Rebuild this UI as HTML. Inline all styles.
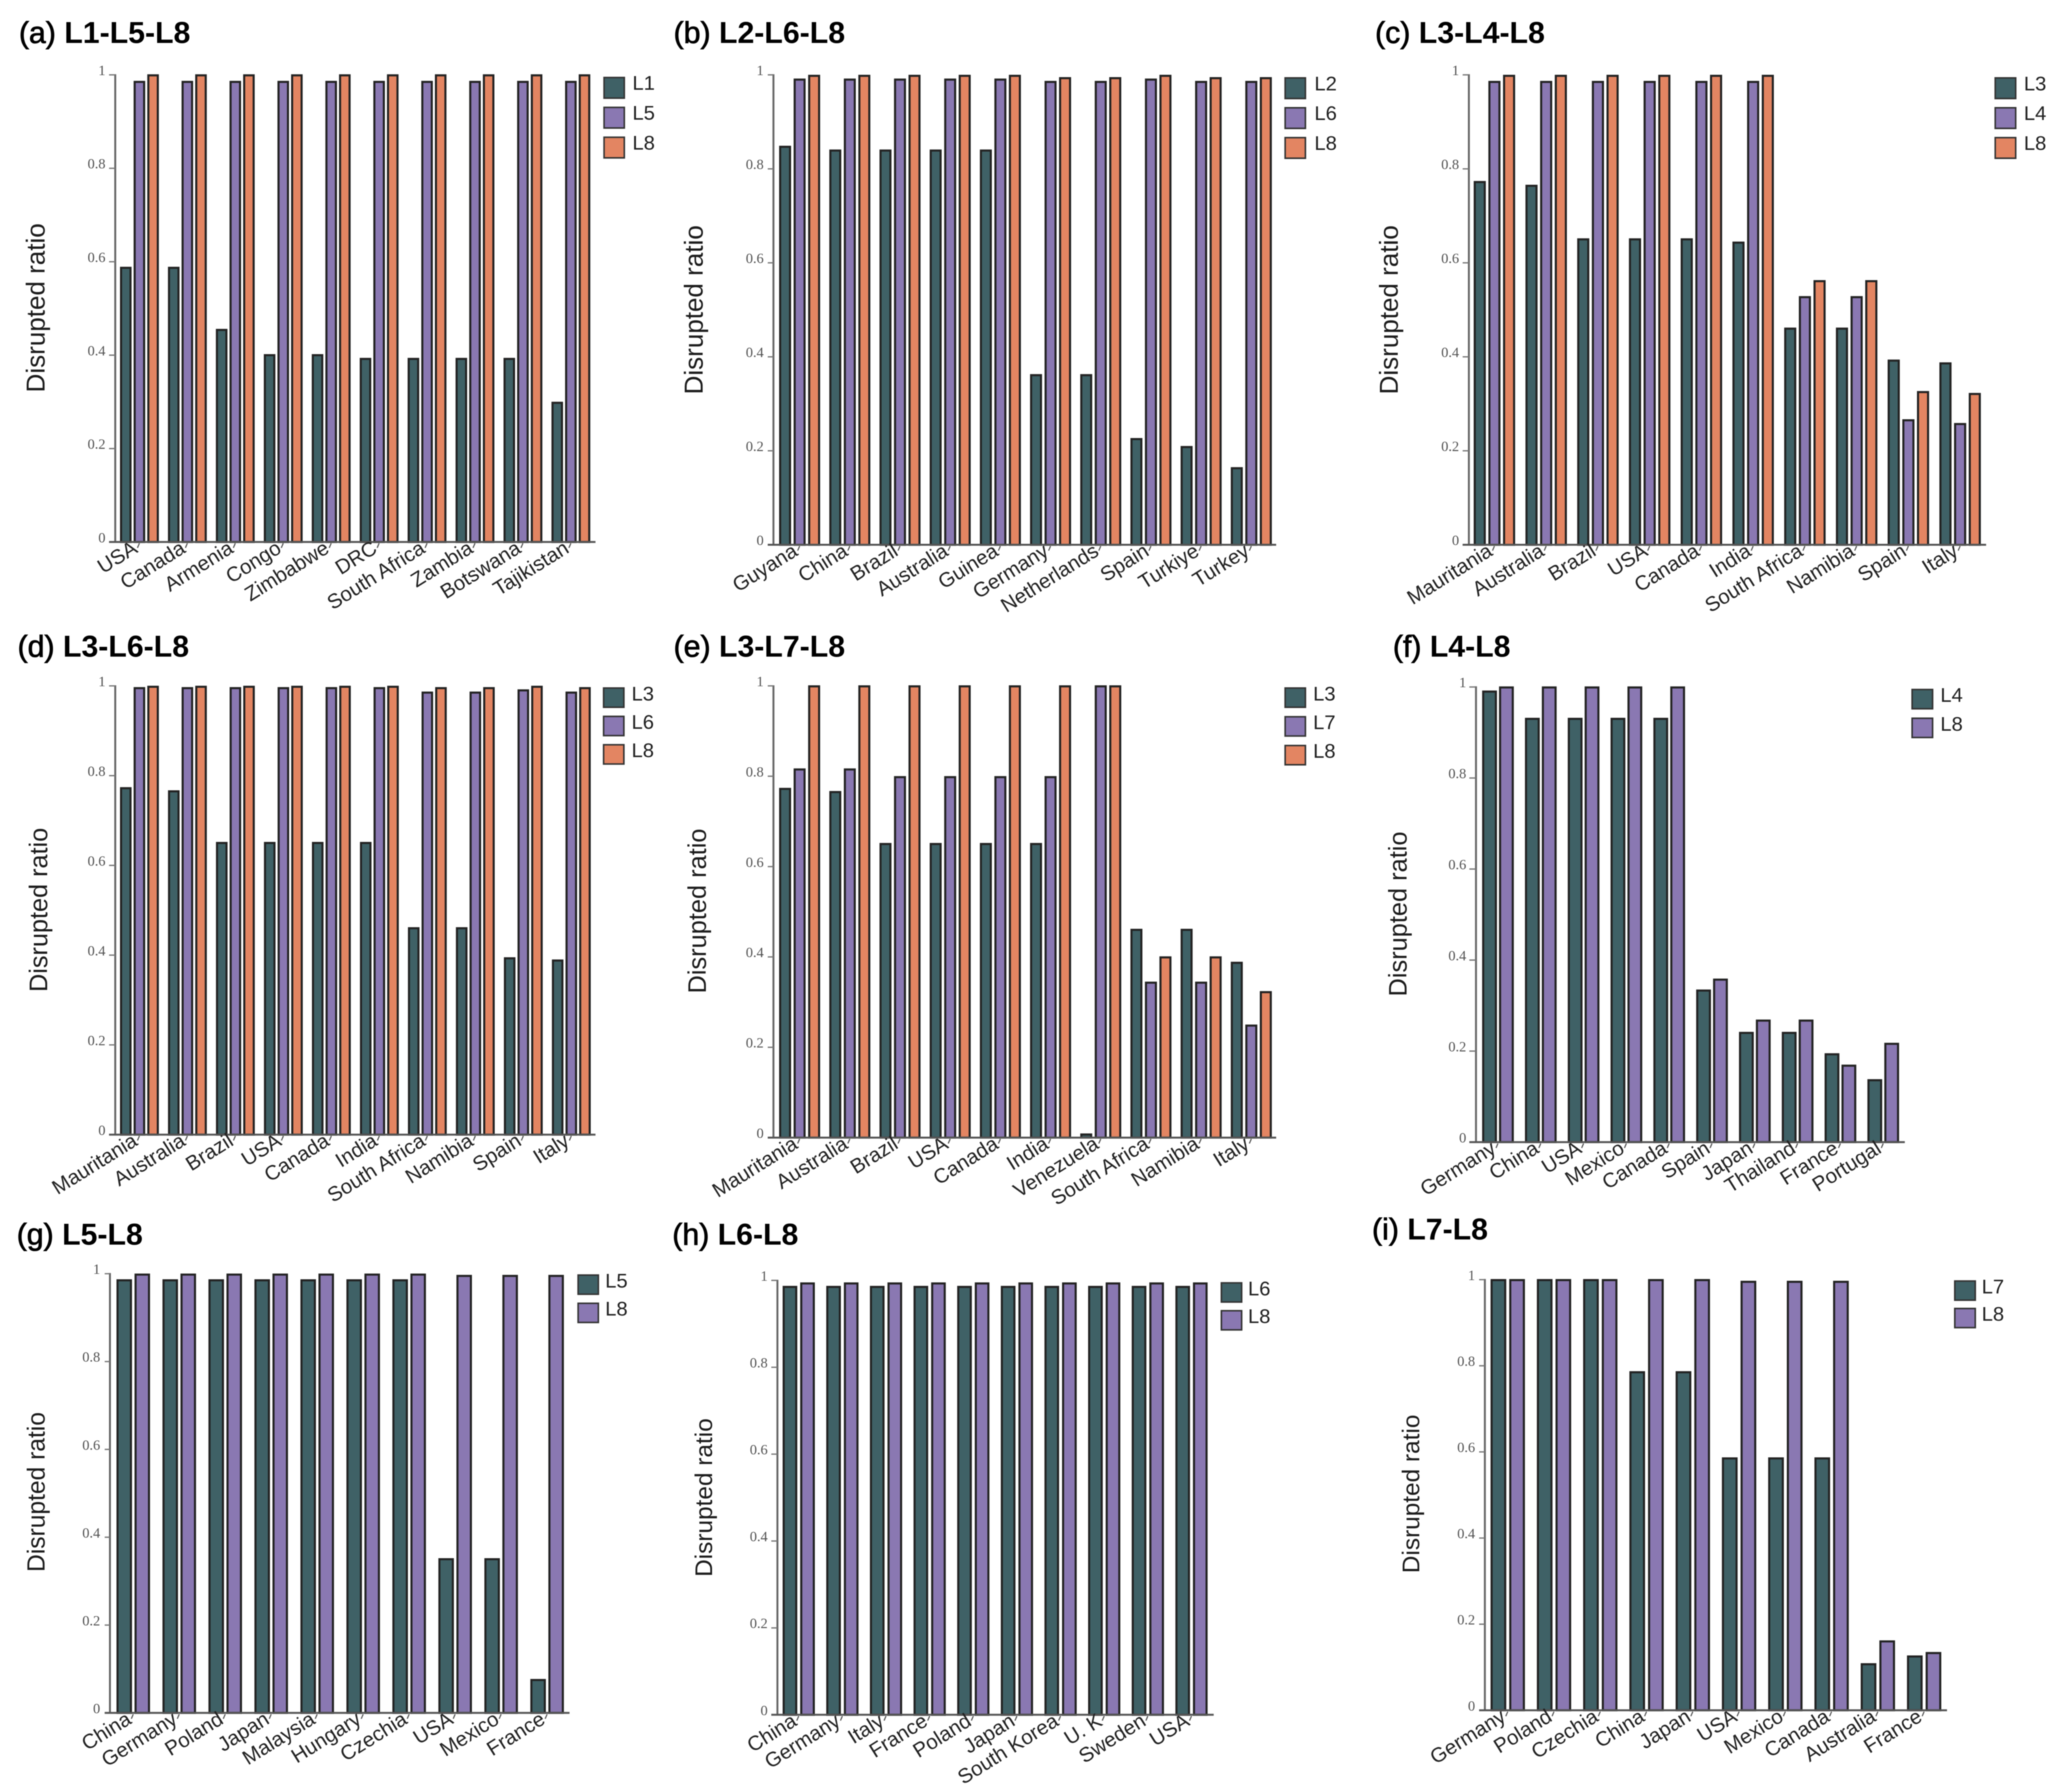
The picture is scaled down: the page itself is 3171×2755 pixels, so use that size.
<!DOCTYPE html>
<html lang="en">
<head>
<meta charset="utf-8">
<title>Disrupted ratio by country and layer combination</title>
<style>
html,body{margin:0;padding:0;background:#fff;width:3171px;height:2755px;overflow:hidden}
svg{display:block;filter:blur(.8px)}
text{font-family:"Liberation Sans",Arial,sans-serif}
.tick-label{font-family:"Liberation Serif","Times New Roman",serif;font-size:22px;fill:#555;text-anchor:end}
.cat-label{font-size:31.5px;fill:#222;text-anchor:end}
.y-title{fill:#1c1c1c;text-anchor:middle}
.legend-label{font-size:31px;fill:#222}
.panel-title{font-size:46.5px;font-weight:700;fill:#000}
.panel-tag{font-weight:400;stroke:#000;stroke-width:1px}
</style>
</head>
<body>
<svg id="figure" xmlns="http://www.w3.org/2000/svg" width="3171" height="2755" viewBox="0 0 3171 2755"></svg>
<script>
// ---- tick labels shared by all panels ----
const yTicks = [0, 0.2, 0.4, 0.6, 0.8, 1];
const yTickLabels = ['0', '0.2', '0.4', '0.6', '0.8', '1'];

// ---- (a) L1-L5-L8 ----
const categoriesA = ['USA', 'Canada', 'Armenia', 'Congo', 'Zimbabwe', 'DRC', 'South Africa', 'Zambia', 'Botswana', 'Tajikistan'];
const seriesNamesA = ['L1', 'L5', 'L8'];
const valuesA1 = [0.587, 0.587, 0.454, 0.40, 0.40, 0.392, 0.392, 0.392, 0.392, 0.298];
const valuesA2 = [0.985, 0.985, 0.985, 0.985, 0.985, 0.985, 0.985, 0.985, 0.985, 0.985];
const valuesA3 = [0.999, 0.999, 0.999, 0.999, 0.999, 0.999, 0.999, 0.999, 0.999, 0.999];

// ---- (b) L2-L6-L8 ----
const categoriesB = ['Guyana', 'China', 'Brazil', 'Australia', 'Guinea', 'Germany', 'Netherlands', 'Spain', 'Turkiye', 'Turkey'];
const seriesNamesB = ['L2', 'L6', 'L8'];
const valuesB1 = [0.847, 0.839, 0.839, 0.839, 0.839, 0.361, 0.361, 0.225, 0.208, 0.163];
const valuesB2 = [0.99, 0.99, 0.99, 0.99, 0.99, 0.985, 0.985, 0.99, 0.985, 0.985];
const valuesB3 = [0.998, 0.998, 0.998, 0.998, 0.998, 0.993, 0.993, 0.998, 0.993, 0.993];

// ---- (c) L3-L4-L8 ----
const categoriesC = ['Mauritania', 'Australia', 'Brazil', 'USA', 'Canada', 'India', 'South Africa', 'Namibia', 'Spain', 'Italy'];
const seriesNamesC = ['L3', 'L4', 'L8'];
const valuesC1 = [0.772, 0.764, 0.65, 0.65, 0.65, 0.643, 0.46, 0.46, 0.392, 0.386];
const valuesC2 = [0.985, 0.985, 0.985, 0.985, 0.985, 0.985, 0.527, 0.527, 0.265, 0.257];
const valuesC3 = [0.998, 0.998, 0.998, 0.998, 0.998, 0.998, 0.561, 0.561, 0.325, 0.321];

// ---- (d) L3-L6-L8 ----
const categoriesD = ['Mauritania', 'Australia', 'Brazil', 'USA', 'Canada', 'India', 'South Africa', 'Namibia', 'Spain', 'Italy'];
const seriesNamesD = ['L3', 'L6', 'L8'];
const valuesD1 = [0.772, 0.765, 0.65, 0.65, 0.65, 0.65, 0.46, 0.46, 0.393, 0.388];
const valuesD2 = [0.995, 0.995, 0.995, 0.995, 0.995, 0.995, 0.985, 0.985, 0.99, 0.985];
const valuesD3 = [0.998, 0.998, 0.998, 0.998, 0.998, 0.998, 0.995, 0.995, 0.998, 0.995];

// ---- (e) L3-L7-L8 ----
const categoriesE = ['Mauritania', 'Australia', 'Brazil', 'USA', 'Canada', 'India', 'Venezuela', 'South Africa', 'Namibia', 'Italy'];
const seriesNamesE = ['L3', 'L7', 'L8'];
const valuesE1 = [0.772, 0.765, 0.65, 0.65, 0.65, 0.65, 0.007, 0.46, 0.46, 0.387];
const valuesE2 = [0.815, 0.815, 0.798, 0.798, 0.798, 0.798, 0.999, 0.343, 0.343, 0.248];
const valuesE3 = [0.999, 0.999, 0.999, 0.999, 0.999, 0.999, 0.999, 0.399, 0.399, 0.322];

// ---- (f) L4-L8 ----
const categoriesF = ['Germany', 'China', 'USA', 'Mexico', 'Canada', 'Spain', 'Japan', 'Thailand', 'France', 'Portugal'];
const seriesNamesF = ['L4', 'L8'];
const valuesF1 = [0.99, 0.93, 0.93, 0.93, 0.93, 0.333, 0.24, 0.24, 0.193, 0.136];
const valuesF2 = [0.999, 0.999, 0.999, 0.999, 0.999, 0.357, 0.267, 0.267, 0.168, 0.216];

// ---- (g) L5-L8 ----
const categoriesG = ['China', 'Germany', 'Poland', 'Japan', 'Malaysia', 'Hungary', 'Czechia', 'USA', 'Mexico', 'France'];
const seriesNamesG = ['L5', 'L8'];
const valuesG1 = [0.985, 0.985, 0.985, 0.985, 0.985, 0.985, 0.985, 0.35, 0.35, 0.075];
const valuesG2 = [0.998, 0.998, 0.998, 0.998, 0.998, 0.998, 0.998, 0.995, 0.995, 0.995];

// ---- (h) L6-L8 ----
const categoriesH = ['China', 'Germany', 'Italy', 'France', 'Poland', 'Japan', 'South Korea', 'U. K', 'Sweden', 'USA'];
const seriesNamesH = ['L6', 'L8'];
const valuesH1 = [0.985, 0.985, 0.985, 0.985, 0.985, 0.985, 0.985, 0.985, 0.985, 0.985];
const valuesH2 = [0.993, 0.993, 0.993, 0.993, 0.993, 0.993, 0.993, 0.993, 0.993, 0.993];

// ---- (i) L7-L8 ----
const categoriesI = ['Germany', 'Poland', 'Czechia', 'China', 'Japan', 'USA', 'Mexico', 'Canada', 'Australia', 'France'];
const seriesNamesI = ['L7', 'L8'];
const valuesI1 = [0.999, 0.999, 0.999, 0.785, 0.785, 0.585, 0.585, 0.585, 0.107, 0.125];
const valuesI2 = [0.999, 0.999, 0.999, 0.999, 0.999, 0.995, 0.995, 0.995, 0.16, 0.133];

const threeColors = ['#3f6166', '#8a78b2', '#e38562'];
const twoColors = ['#3f6166', '#8a78b2'];

// Panel wiring. Layout numbers are measured inside a 1568-square view of each cell.
const panels = [
 {key:'a', tag:'(a)', name:'L1-L5-L8', cats:categoriesA, names:seriesNamesA, series:[valuesA1,valuesA2,valuesA3], colors:threeColors,
  cell:[0,0,1060,960], axisX:262, top:188, base:1361, xEnd:1354, xStart:248, first:273, last:1254, barW:26, pitch:31, titleX:43, titleY:108, yTitleX:82, yTitleY:773, yTitleSize:40, legX:1372, legY:193, legP:75, legT:1438},
 {key:'b', tag:'(b)', name:'L2-L6-L8', cats:categoriesB, names:seriesNamesB, series:[valuesB1,valuesB2,valuesB3], colors:threeColors,
  cell:[1030,0,1060,960], axisX:235, top:188, base:1368, xEnd:1378, xStart:222, first:248, last:1275, barW:27, pitch:33, titleX:8, titleY:108, yTitleX:55, yTitleY:778, yTitleSize:40, legX:1397, legY:194, legP:75, legT:1465},
 {key:'c', tag:'(c)', name:'L3-L4-L8', cats:categoriesC, names:seriesNamesC, series:[valuesC1,valuesC2,valuesC3], colors:threeColors,
  cell:[2100,0,1071,960], axisX:231, top:188, base:1368, xEnd:1395, xStart:217, first:242, last:1290, barW:27, pitch:33, titleX:20, titleY:108, yTitleX:52, yTitleY:778, yTitleSize:40, legX:1414, legY:194, legP:75, legT:1480},
 {key:'d', tag:'(d)', name:'L3-L6-L8', cats:categoriesD, names:seriesNamesD, series:[valuesD1,valuesD2,valuesD3], colors:threeColors,
  cell:[0,950,1060,900], axisX:262, top:182, base:1384, xEnd:1354, xStart:248, first:273, last:1255, barW:26, pitch:31, titleX:40, titleY:104, yTitleX:88, yTitleY:782, yTitleSize:38.8, legX:1371, legY:186, legP:76, legT:1436},
 {key:'e', tag:'(e)', name:'L3-L7-L8', cats:categoriesE, names:seriesNamesE, series:[valuesE1,valuesE2,valuesE3], colors:threeColors,
  cell:[1030,950,1060,900], axisX:235, top:182, base:1392, xEnd:1378, xStart:222, first:248, last:1275, barW:27, pitch:33, titleX:8, titleY:104, yTitleX:62, yTitleY:785, yTitleSize:39, legX:1397, legY:186, legP:77, legT:1462},
 {key:'f', tag:'(f)', name:'L4-L8', cats:categoriesF, names:seriesNamesF, series:[valuesF1,valuesF2], colors:twoColors,
  cell:[2100,950,1071,900], axisX:247, top:185, base:1404, xEnd:1212, xStart:232, first:261, last:1128, barW:33, pitch:38, titleX:60, titleY:104, yTitleX:72, yTitleY:793, yTitleSize:39, legX:1227, legY:190, legP:77, legT:1292},
 {key:'g', tag:'(g)', name:'L5-L8', cats:categoriesG, names:seriesNamesG, series:[valuesG1,valuesG2], colors:twoColors,
  cell:[0,1860,1060,895], axisX:250, top:172, base:1355, xEnd:1295, xStart:238, first:265, last:1206, barW:35, pitch:41, titleX:38, titleY:94, yTitleX:82, yTitleY:760, yTitleSize:37.8, legX:1313, legY:174, legP:76, legT:1376},
 {key:'h', tag:'(h)', name:'L6-L8', cats:categoriesH, names:seriesNamesH, series:[valuesH1,valuesH2], colors:twoColors,
  cell:[1030,1860,1060,895], axisX:244, top:190, base:1360, xEnd:1236, xStart:230, first:256, last:1149, barW:33, pitch:40, titleX:5, titleY:94, yTitleX:76, yTitleY:775, yTitleSize:37.5, legX:1252, legY:195, legP:75, legT:1314},
 {key:'i', tag:'(i)', name:'L7-L8', cats:categoriesI, names:seriesNamesI, series:[valuesI1,valuesI2], colors:twoColors,
  cell:[2100,1860,1071,895], axisX:267, top:188, base:1348, xEnd:1307, xStart:254, first:280, last:1217, barW:35, pitch:42, titleX:13, titleY:80, yTitleX:100, yTitleY:765, yTitleSize:37.5, legX:1323, legY:190, legP:74, legT:1385}
];

const NS = 'http://www.w3.org/2000/svg';
const root = document.getElementById('figure');
function make(tag, parent, props) {
  const el = document.createElementNS(NS, tag);
  for (const k in props) el.setAttribute(k, props[k]);
  parent.appendChild(el);
  return el;
}

panels.forEach(function (p) {
  const kx = 1568 / p.cell[2];
  const ky = 1568 / p.cell[3];
  const X = function (z) { return p.cell[0] + z / kx; };
  const Y = function (z) { return p.cell[1] + z / ky; };
  const y0 = Y(p.base);
  const y1 = Y(p.top);
  const yScale = function (v) { return y0 + (y1 - y0) * v; };
  const groupStep = (X(p.last) - X(p.first)) / (p.cats.length - 1);
  const barWidth = p.barW / kx;
  const barPitch = p.pitch / kx;
  const groupWidth = barPitch * (p.series.length - 1) + barWidth;
  const xScale = function (i) { return X(p.first) + i * groupStep; };

  const g = make('g', root, {});
  
  

  const title = make('text', g, {x: X(p.titleX), y: Y(p.titleY), 'class': 'panel-title'});
  
  
  const tagSpan = make('tspan', title, {'class': 'panel-tag'});
  tagSpan.textContent = p.tag;
  const nameSpan = make('tspan', title, {});
  nameSpan.textContent = ' ' + p.name;

  const yTitleX = X(p.yTitleX) + 13;
  const yTitleY = Y(p.yTitleY);
  const yTitle = make('text', g, {x: yTitleX, y: yTitleY, 'class': 'y-title', 'font-size': p.yTitleSize, transform: 'rotate(-90 ' + yTitleX + ' ' + yTitleY + ')'});
  
  
  yTitle.textContent = 'Disrupted ratio';

  // bars
  p.series.forEach(function (values, s) {
    values.forEach(function (v, i) {
      const left = xScale(i) + s * barPitch;
      const topY = yScale(v);
      const bar = make('rect', g, {x: left + 1.5, y: topY, width: barWidth - 3, height: y0 - topY, fill: p.colors[s], stroke: '#222', 'stroke-width': 3.2});
      
      
    });
  });

  // y axis
  const yAxis = make('line', g, {x1: X(p.axisX), x2: X(p.axisX), y1: y1 - 1, y2: y0, stroke: '#666', 'stroke-width': 3});
  
  

  yTicks.forEach(function (t, n) {
    const ty = yScale(t);
    const tick = make('line', g, {x1: X(p.xStart), x2: X(p.axisX), y1: ty, y2: ty, stroke: '#777', 'stroke-width': 2});
    
    
    const lab = make('text', g, {x: X(p.axisX) - 15, y: ty + 0.5, 'class': 'tick-label'});
    
    
    lab.textContent = yTickLabels[n];
  });

  // x axis
  const xAxis = make('line', g, {x1: X(p.xStart), x2: X(p.xEnd), y1: y0, y2: y0, stroke: '#555', 'stroke-width': 3});
  
  

  // category labels
  p.cats.forEach(function (c, i) {
    const cx = xScale(i) + groupWidth / 2;
    const mark = make('line', g, {x1: cx, y1: y0 + 2, x2: cx - 3, y2: y0 + 9, stroke: '#555', 'stroke-width': 1.8});
    
    
    const lx = cx - 1;
    const ly = y0 + 15;
    const lab = make('text', g, {x: lx, y: ly, 'class': 'cat-label', transform: 'rotate(-32 ' + lx + ' ' + ly + ')'});
    
    
    lab.textContent = c;
  });

  // legend
  p.names.forEach(function (n, s) {
    const ly = Y(p.legY + s * p.legP);
    const swatch = make('rect', g, {x: X(p.legX) + 1, y: ly + 1, width: 49 / kx - 2, height: 55 / ky - 2, fill: p.colors[s], stroke: '#333', 'stroke-width': 2.4});
    
    
    const txt = make('text', g, {x: X(p.legT), y: ly + 20, 'class': 'legend-label'});
    
    
    txt.textContent = n;
  });
});
</script>
</body>
</html>
